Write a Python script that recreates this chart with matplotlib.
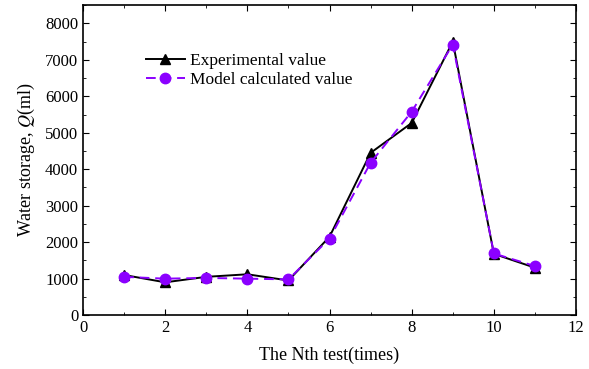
import matplotlib.pyplot as plt
from matplotlib.ticker import MultipleLocator

plt.rcParams['font.family'] = ['Liberation Serif', 'DejaVu Serif']
plt.rcParams['mathtext.fontset'] = 'stix'

# test number and water storage (ml)
tests = [1, 2, 3, 4, 5, 6, 7, 8, 9, 10, 11]
experimental = [1100, 900, 1050, 1120, 950, 2150, 4450, 5270, 7500, 1680, 1300]
model = [1050, 1000, 1020, 1000, 980, 2100, 4180, 5580, 7420, 1690, 1345]

fig = plt.figure(figsize=(5.89, 3.69), dpi=100)
ax = fig.add_axes([0.141, 0.146, 0.837, 0.84])

ax.plot(tests, experimental, color="black", marker="^", markersize=7,
        linewidth=1.4, label="Experimental value")
ax.plot(tests, model, color="#8B00FF", marker="o", markersize=7.5,
        linewidth=1.4, linestyle=(0, (5, 3)), label="Model calculated value")

ax.set_xlim(0, 12)
ax.set_ylim(0, 8500)
ax.xaxis.set_major_locator(MultipleLocator(2))
ax.xaxis.set_minor_locator(MultipleLocator(1))
ax.yaxis.set_major_locator(MultipleLocator(1000))
ax.yaxis.set_minor_locator(MultipleLocator(500))
ax.tick_params(which="both", direction="in", top=True, right=True, labelsize=12)
ax.tick_params(which="major", length=4)
ax.tick_params(which="minor", length=2.5)
for s in ax.spines.values():
    s.set_linewidth(1.2)

ax.set_xlabel("The Nth test(times)", fontsize=13, labelpad=8)
ax.set_ylabel("Water storage, $Q$(ml)", fontsize=13, labelpad=6)

ax.legend(loc="upper left", bbox_to_anchor=(0.095, 0.895), frameon=False,
          fontsize=12.5, handlelength=2.3, handletextpad=0.25, labelspacing=0.12)

plt.savefig("out.png", dpi=100)
